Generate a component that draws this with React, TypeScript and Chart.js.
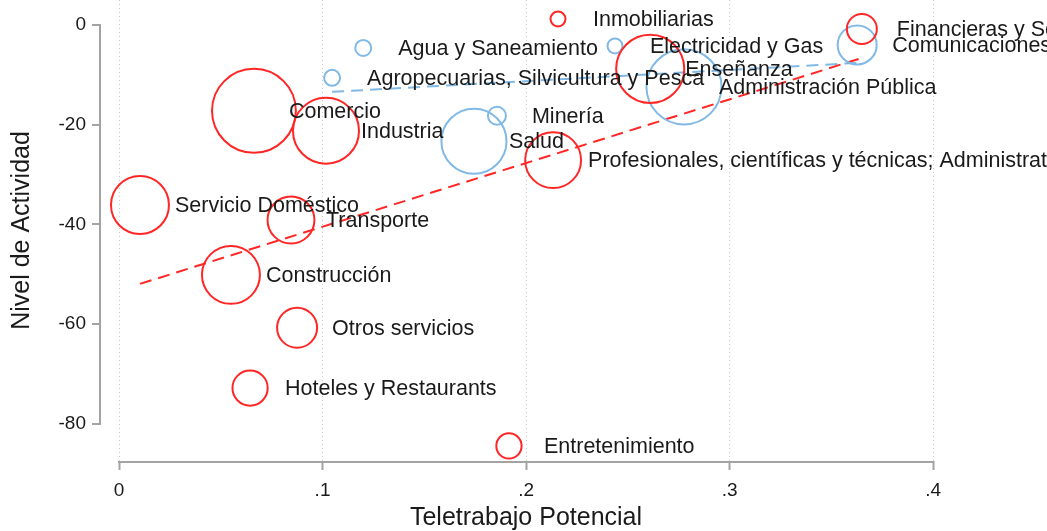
import React, { useEffect, useRef } from "react";
import { Chart, registerables } from "chart.js";

Chart.register(...registerables);

// ---- Data ----
const sectoresRojo = [
  "Inmobiliarias",
  "Financieras y Seguros",
  "Enseñanza",
  "Comercio",
  "Industria",
  "Profesionales, científicas y técnicas; Administrativas y servicios de apoyo",
  "Servicio Doméstico",
  "Transporte",
  "Construcción",
  "Otros servicios",
  "Hoteles y Restaurants",
  "Entretenimiento",
];
const teletrabajoRojo = [0.2157, 0.365, 0.261, 0.0663, 0.1017, 0.2133, 0.0103, 0.0845, 0.055, 0.0875, 0.0644, 0.1916];
const actividadRojo = [1.2, -0.8, -8.8, -17.2, -21.2, -27.1, -36.1, -39.1, -50.1, -60.7, -72.8, -84.4];
const pesoRojo = [0.56, 2.25, 11.6, 17.6, 10.9, 7.8, 8.4, 5.5, 8.4, 4.0, 3.1, 1.6];

const sectoresAzul = [
  "Agua y Saneamiento",
  "Electricidad y Gas",
  "Comunicaciones",
  "Agropecuarias, Silvicultura y Pesca",
  "Administración Pública",
  "Minería",
  "Salud",
];
const teletrabajoAzul = [0.12, 0.2437, 0.3627, 0.1047, 0.2776, 0.1857, 0.1744];
const actividadAzul = [-4.6, -4.2, -4.0, -10.6, -12.4, -18.2, -23.3];
const pesoAzul = [0.64, 0.56, 3.8, 0.64, 14.1, 0.81, 10.6];

const ajusteRojoX = [0.0103, 0.3651];
const ajusteRojoY = [-51.9, -6.6];
const ajusteAzulX = [0.1047, 0.3627];
const ajusteAzulY = [-13.4, -7.6];

const xTicks = [0, 0.1, 0.2, 0.3, 0.4];
const xTickLabels = ["0", ".1", ".2", ".3", ".4"];
const yTicks = [-80, -60, -40, -20, 0];

// ---- Styles ----
const RED = "#ff2626";
const BLUE = "#80b9e6";
const AXIS = "#a3a3a3";
const FONT = "'Liberation Sans', Arial, sans-serif";
const radio = (w: number) => 10 * Math.sqrt(w);

const labelPlugin = {
  id: "bubbleLabels",
  afterDatasetsDraw(chart: any) {
    const ctx = chart.ctx;
    ctx.save();
    ctx.font = `21.5px ${FONT}`;
    ctx.fillStyle = "#1a1a1a";
    ctx.textAlign = "left";
    ctx.textBaseline = "middle";
    [0, 1].forEach((di) => {
      const meta = chart.getDatasetMeta(di);
      const names = di === 0 ? sectoresRojo : sectoresAzul;
      meta.data.forEach((el: any, i: number) => {
        ctx.fillText(names[i], el.x + 35, el.y + 1);
      });
    });
    ctx.restore();
  },
};

const axisPlugin = {
  id: "stataAxes",
  beforeDatasetsDraw(chart: any) {
    const { ctx, chartArea, scales } = chart;
    ctx.save();
    ctx.strokeStyle = AXIS;
    ctx.lineWidth = 2;
    ctx.beginPath();
    ctx.moveTo(chartArea.left - 1, scales.y.getPixelForValue(yTicks[yTicks.length - 1]) - 1);
    ctx.lineTo(chartArea.left - 1, scales.y.getPixelForValue(yTicks[0]) + 1);
    ctx.moveTo(scales.x.getPixelForValue(xTicks[0]) - 1, chartArea.bottom + 1);
    ctx.lineTo(scales.x.getPixelForValue(xTicks[xTicks.length - 1]) + 1, chartArea.bottom + 1);
    ctx.stroke();
    ctx.restore();
  },
};

export default function App() {
  const ref = useRef<HTMLCanvasElement | null>(null);

  useEffect(() => {
    if (!ref.current) return;
    const chart = new Chart(ref.current, {
      type: "bubble",
      data: {
        datasets: [
          {
            label: "Rojo",
            data: teletrabajoRojo.map((x, i) => ({ x, y: actividadRojo[i], r: radio(pesoRojo[i]) })),
            backgroundColor: "rgba(0,0,0,0)",
            borderColor: RED,
            borderWidth: 2,
            clip: false,
          } as any,
          {
            label: "Azul",
            data: teletrabajoAzul.map((x, i) => ({ x, y: actividadAzul[i], r: radio(pesoAzul[i]) })),
            backgroundColor: "rgba(0,0,0,0)",
            borderColor: BLUE,
            borderWidth: 2,
            clip: false,
          } as any,
          {
            type: "line",
            label: "Ajuste rojo",
            data: ajusteRojoX.map((x, i) => ({ x, y: ajusteRojoY[i] })),
            borderColor: RED,
            borderWidth: 2,
            borderDash: [12, 7],
            pointRadius: 0,
            fill: false,
          } as any,
          {
            type: "line",
            label: "Ajuste azul",
            data: ajusteAzulX.map((x, i) => ({ x, y: ajusteAzulY[i] })),
            borderColor: BLUE,
            borderWidth: 2,
            borderDash: [12, 7],
            pointRadius: 0,
            fill: false,
          } as any,
        ],
      },
      options: {
        animation: false,
        responsive: false,
        events: [],
        layout: { autoPadding: false, padding: { top: 0, left: 0, right: 96, bottom: 0 } },
        plugins: { legend: { display: false }, tooltip: { enabled: false } },
        scales: {
          x: {
            type: "linear",
            min: -0.00885,
            max: 0.4088,
            afterBuildTicks: (s: any) => {
              s.ticks = xTicks.map((v) => ({ value: v }));
            },
            afterFit: (s: any) => {
              s.height = 70;
              s.paddingLeft = 0;
              s.paddingRight = 0;
            },
            ticks: {
              autoSkip: false,
              maxRotation: 0,
              padding: 9,
              color: "#1a1a1a",
              font: { family: FONT, size: 19 },
              callback: (_v: any, i: number) => xTickLabels[i],
            },
            grid: {
              display: true,
              drawOnChartArea: true,
              drawTicks: true,
              tickLength: 9,
              color: "#c9c9c9",
              lineWidth: 1,
              tickColor: AXIS,
              tickWidth: 2,
              tickBorderDash: [],
            },
            border: { display: false, dash: [1, 3] },
            title: {
              display: true,
              text: "Teletrabajo Potencial",
              color: "#1a1a1a",
              font: { family: FONT, size: 25 },
              padding: { top: 0, bottom: -2 },
            },
          },
          y: {
            type: "linear",
            min: -87.42,
            max: 5.013,
            afterBuildTicks: (s: any) => {
              s.ticks = yTicks.map((v) => ({ value: v }));
            },
            afterFit: (s: any) => {
              s.width = 101;
              s.paddingTop = 0;
              s.paddingBottom = 0;
            },
            ticks: {
              padding: 6,
              color: "#1a1a1a",
              font: { family: FONT, size: 19 },
              callback: (v: any) => String(v),
            },
            grid: {
              display: true,
              drawOnChartArea: false,
              drawTicks: true,
              tickLength: 9,
              tickColor: AXIS,
              tickWidth: 2,
              color: AXIS,
              lineWidth: 2,
            },
            border: { display: false },
            title: {
              display: true,
              text: "Nivel de Actividad",
              color: "#1a1a1a",
              font: { family: FONT, size: 25 },
              padding: { top: 7, bottom: 0 },
            },
          },
        },
      } as any,
      plugins: [axisPlugin, labelPlugin],
    });
    return () => chart.destroy();
  }, []);

  return (
    <div style={{ position: "fixed", left: 0, top: 0, width: 1047, height: 531, background: "#fff" }}>
      <canvas ref={ref} width={1047} height={531} style={{ display: "block" }} />
    </div>
  );
}
